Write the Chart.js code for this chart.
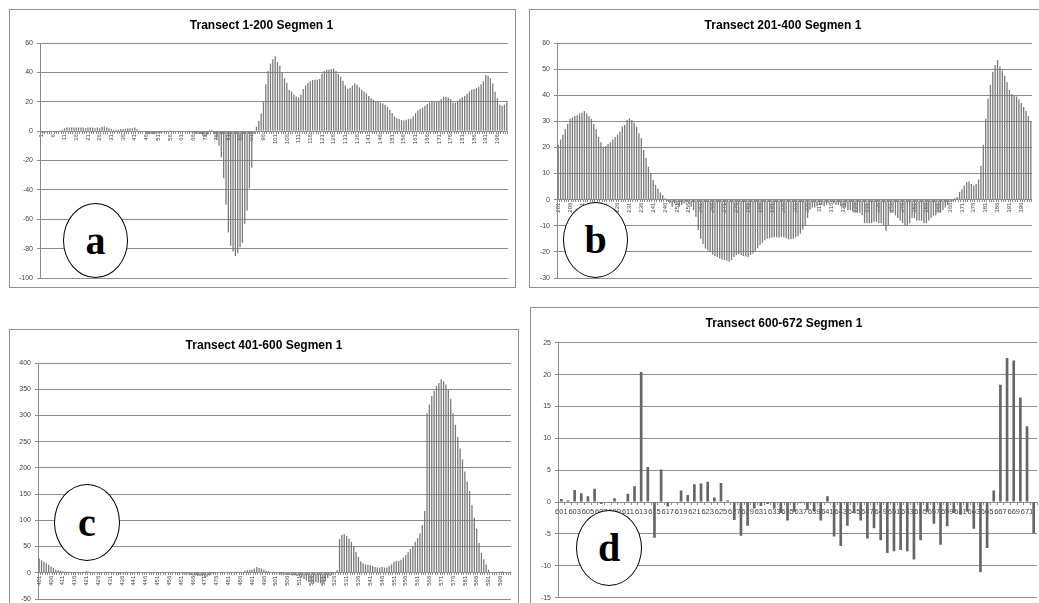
<!DOCTYPE html>
<html>
<head>
<meta charset="utf-8">
<title>Transect Segmen 1</title>
<script src="https://cdn.jsdelivr.net/npm/chart.js@4.4.0/dist/chart.umd.min.js"></script>
<style>
  html, body { margin: 0; padding: 0; background: #fff; }
  body { width: 1039px; height: 603px; position: relative; overflow: hidden; }
  .panel { position: absolute; border: 1px solid #8f8f8f; box-sizing: border-box; background: #fff; }
  canvas { position: absolute; }
  .tag {
    position: absolute; box-sizing: border-box; border: 1.6px solid #000; border-radius: 50%;
    background: #fff; display: flex; align-items: center; justify-content: center;
    font: bold 40px "Liberation Serif", "Times New Roman", serif; color: #000; line-height: 1;
  }
</style>
</head>
<body>
<div class="panel" style="left:9px;top:9px;width:507px;height:279px"></div>
<div class="panel" style="left:529px;top:9px;width:520px;height:279px"></div>
<div class="panel" style="left:9px;top:329px;width:510px;height:300px"></div>
<div class="panel" style="left:530px;top:307px;width:520px;height:310px"></div>

<canvas id="chartA" width="505" height="277" style="left:10px;top:10px"></canvas>
<canvas id="chartB" width="509" height="277" style="left:530px;top:10px"></canvas>
<canvas id="chartC" width="508" height="290" style="left:10px;top:330px"></canvas>
<canvas id="chartD" width="508" height="300" style="left:531px;top:308px"></canvas>

<div class="tag" style="left:63px;top:203px;width:65px;height:75px">a</div>
<div class="tag" style="left:563px;top:202px;width:65px;height:76px">b</div>
<div class="tag" style="left:54px;top:484px;width:66px;height:77px">c</div>
<div class="tag" style="left:576px;top:510px;width:66px;height:76px">d</div>

<script>
// categorías (número de punto del transecto)
const catsA = Array.from({ length: 200 }, (_, i) => String(1 + i));
const catsB = Array.from({ length: 200 }, (_, i) => String(201 + i));
const catsC = Array.from({ length: 200 }, (_, i) => String(401 + i));
const catsD = Array.from({ length: 72 }, (_, i) => String(601 + i));

const titleA = 'Transect 1-200 Segmen 1';
const titleB = 'Transect 201-400 Segmen 1';
const titleC = 'Transect 401-600 Segmen 1';
const titleD = 'Transect 600-672 Segmen 1';

// eje Y: [min, max, paso]
const yTicksA = [-100, 60, 20];
const yTicksB = [-30, 60, 10];
const yTicksC = [-50, 400, 50];
const yTicksD = [-15, 25, 5];

const valsA = [
  -1, -1, -1, -0.5, -0.5, -0.5, -1, -0.5, 0.5, 1,
  2, 2.5, 2.5, 2.5, 2.5, 2.5, 2.5, 2.5, 2.5, 2,
  2.5, 2.5, 2.5, 2, 2.5, 2, 3, 3, 2.5, 2,
  1.5, 1, 1, 1, 1.5, 1.5, 1.5, 2, 2, 2,
  2.5, 1.5, 0.5, 0, -0.5, -1.5, -2, -2, -2, -1.5,
  -1.5, -1, -1, -0.5, -0.5, 0.5, 0.5, 0, 0, -0.5,
  -0.5, 0, -0.5, -0.5, -1, -1, -1.5, -2, -2, -3,
  -4, -2.5, 1, 1, -2, -6, -10, -18, -32, -50,
  -69, -78, -82, -85, -83, -79, -76, -63, -54, -39,
  -25, -2, 3, 7, 12, 20, 32, 41, 46, 49,
  51, 47, 44.5, 40, 36, 33, 28, 27, 25, 23.6,
  23, 25, 28.6, 31, 32.7, 34, 34.8, 35, 35, 35.5,
  39, 41, 41.8, 42, 42.3, 42.7, 41, 38.9, 37, 34.3,
  31, 28.6, 29.5, 31, 32.5, 31.6, 29.8, 28.2, 27, 25.7,
  24, 22.3, 21.4, 20.5, 20, 19.5, 18.9, 18, 16.6, 14.5,
  12.3, 10, 8.9, 8.2, 7.5, 7.3, 7.7, 8.2, 8.2, 10,
  12.3, 14, 15, 16, 17.3, 18.4, 19.5, 20, 20, 20,
  20.7, 21.8, 23.4, 23.4, 22.7, 21.8, 19.5, 19.5, 20.7, 21.8,
  23, 24, 25.2, 27, 28.2, 28.6, 29.3, 30.2, 32, 33.9,
  38.2, 37.7, 36, 32.5, 26.8, 22.3, 18, 17.3, 18, 19.5
];

const valsB = [
  21, 23, 25, 27, 29, 31, 31.5, 32, 32.3, 33,
  33.3, 34, 33, 32, 31, 29, 27, 24, 22, 20.3,
  20.6, 21.3, 22, 23, 24, 25, 26, 28, 28.6, 30.5,
  31.2, 30.5, 29.5, 28, 25.4, 23.5, 19, 16, 12.6, 10,
  7.5, 5.6, 4.3, 2.7, 1.8, 0.5, -0.5, -1.4, -2.7, -1.5,
  -2, -2.7, -2, -1.5, -1, -1.5, -2.7, -4, -6.5, -11.6,
  -15, -17, -18.7, -19.5, -20, -21, -21.6, -22, -22.5, -22.9,
  -23.1, -23.4, -23.8, -23.1, -22, -21.2, -20.8, -21.2, -21.6, -21.8,
  -22, -21.2, -20.6, -19.7, -18.6, -17.4, -16.5, -15.5, -15, -14.8,
  -14.6, -14.4, -14.4, -14.5, -14.2, -14.4, -14.8, -15.2, -15.2, -15,
  -14.5, -14, -13, -11.5, -10, -7, -4, -3, -3, -2.5,
  -2, -2, -2.5, -2, -1.5, -1, -1.5, -2, -2, -2.5,
  -3, -3, -4, -4, -4.5, -5, -5, -5, -6, -9,
  -9, -9, -9, -8.5, -8.5, -9, -9, -10, -12, -10,
  -5, -5, -6, -7, -8, -9, -10, -10, -9, -7,
  -7, -8, -8, -8, -9, -9, -8, -7, -6, -6,
  -5, -5, -4, -3, -2, -1, -0.5, 0.5, 1, 3,
  4, 5.4, 6.7, 7, 6, 5.4, 6, 7.7, 13, 21,
  31, 38.7, 44, 49, 51.6, 53.5, 51, 49.5, 47.5, 45,
  42, 40.5, 40, 39.5, 38.5, 37, 35.5, 34, 32, 30
];

const valsC = [
  27, 24, 21, 18, 15, 12, 9, 6, 5, 4,
  3, 2, 2, 2, 1.5, 1.5, 1.5, 1, 1.5, 2,
  3.5, 2, 1, 1, 1, 0.5, 1, 1, 1, 1.5,
  2, 1.5, 1, -1, -2, -2, -1, -1, -1, -0.5,
  0.5, 0.5, 0, -1, -1, -1, -1, -0.5, 0, 0,
  0.5, 0.5, 0, -0.5, -1, -1, -0.5, 0, 0, -1,
  -2, -2, -3, -3, -4, -5, -5, -6, -6, -7,
  -8, -7, -5, -3, -2, -1, -1, 0, 0, 0.5,
  0, 0, 0, 0, 0.5, 1, 1, 4, 5, 6,
  6, 8, 11, 9, 8, 6, 4, 3, 1, 0,
  -1, -2, -3, -3, -4, -4, -4, -5, -5, -6,
  -7, -9, -12, -15, -18, -20, -21, -18, -19, -20,
  -21, -16, -10, -6, -3, 1, 5, 64, 72, 74,
  70, 65, 59, 51, 40, 30, 22, 18, 16, 15,
  15, 13, 11, 10, 10, 11, 10, 10, 13, 16,
  21, 23, 23, 25, 29, 34, 39, 45, 51, 59,
  66, 75, 91, 118, 304, 321, 337, 347, 356, 362,
  369, 365, 359, 350, 332, 304, 282, 259, 237, 216,
  193, 174, 156, 129, 105, 84, 57, 38, 26, 16,
  6, 1, -1, 0, 1, 2.5, 3, 1, 1, 1
];

const valsD = [
  0.5, 0.3, 1.9, 1.4, 0.9, 2.1, -0.3, 0, 0.6, 0,
  1.3, 2.5, 20.4, 5.5, -5.6, 5.1, -0.7, 0, 1.8, 1.1,
  2.8, 2.9, 3.2, 0.7, 3.0, 0.3, -2.8, -5.3, -3.7, -1.0,
  -0.6, -0.3, -1.0, -1.7, -2.9, -1.5, -0.2, -1.2, -1.4, -2.9,
  0.9, -5.4, -6.9, -3.7, -1.7, -2.9, -5.7, -4.1, -6.0, -8.0,
  -7.7, -7.5, -7.7, -9.0, -6.0, -1.5, -3.4, -6.7, -3.8, -1.7,
  -2.0, -1.5, -4.2, -11.0, -7.2, 1.8, 18.4, 22.6, 22.2, 16.4,
  11.9, -4.9
];

const FONT = '"Liberation Sans", Arial, sans-serif';
const GRID = '#8c8c8c';
const TXT = '#404040';

function makeChart(id, cfg) {
  const canvas = document.getElementById(id);
  return new Chart(canvas.getContext('2d'), {
    type: 'bar',
    data: {
      labels: cfg.labels,
      datasets: [{
        data: cfg.values,
        backgroundColor: cfg.color,
        borderWidth: 0,
        barPercentage: cfg.barPct,
        categoryPercentage: 1
      }]
    },
    options: {
      responsive: false,
      animation: false,
      devicePixelRatio: 1,
      layout: { padding: cfg.pad },
      plugins: {
        legend: { display: false },
        tooltip: { enabled: false },
        title: {
          display: true,
          text: cfg.title,
          color: '#000',
          font: { family: FONT, size: 12, weight: 'bold' },
          padding: cfg.titlePad
        }
      },
      scales: {
        x: {
          position: { y: 0 },
          afterFit: (s) => { s.height = 0; },
          grid: { display: true, drawOnChartArea: false, color: GRID, tickLength: 2 },
          border: { display: true, color: GRID },
          ticks: {
            autoSkip: false,
            minRotation: cfg.rot,
            maxRotation: cfg.rot,
            padding: cfg.xPad,
            color: TXT,
            font: { family: FONT, size: cfg.xFont },
            callback: function (v, i) { return i % cfg.every === 0 ? this.getLabelForValue(v) : ''; }
          }
        },
        y: {
          min: cfg.yTicks[0],
          max: cfg.yTicks[1],
          afterFit: (s) => { s.width = cfg.yWidth; },
          grid: { color: GRID, tickLength: 3 },
          border: { display: true, color: GRID },
          ticks: {
            stepSize: cfg.yTicks[2],
            padding: 4,
            color: TXT,
            font: { family: FONT, size: 7 }
          }
        }
      }
    }
  });
}

makeChart('chartA', {
  labels: catsA, values: valsA, title: titleA, yTicks: yTicksA,
  color: '#7a7a7a', barPct: 0.55, rot: 90, every: 5, xFont: 6, xPad: 1,
  yWidth: 30, pad: { left: 0, right: 2, top: 0, bottom: 9 },
  titlePad: { top: 8.8, bottom: 9.8 }
});

makeChart('chartB', {
  labels: catsB, values: valsB, title: titleB, yTicks: yTicksB,
  color: '#7a7a7a', barPct: 0.55, rot: 90, every: 5, xFont: 6, xPad: 1,
  yWidth: 27, pad: { left: 0, right: 3, top: 0, bottom: 9 },
  titlePad: { top: 8.8, bottom: 9.8 }
});

makeChart('chartC', {
  labels: catsC, values: valsC, title: titleC, yTicks: yTicksC,
  color: '#7a7a7a', barPct: 0.55, rot: 90, every: 5, xFont: 6, xPad: 1,
  yWidth: 28, pad: { left: 0, right: 0, top: 0, bottom: 21 },
  titlePad: { top: 8.8, bottom: 9.8 }
});

makeChart('chartD', {
  labels: catsD, values: valsD, title: titleD, yTicks: yTicksD,
  color: '#666666', barPct: 0.4, rot: 0, every: 2, xFont: 7.5, xPad: 3,
  yWidth: 27, pad: { left: 0, right: 2, top: 0, bottom: 10.3 },
  titlePad: { top: 8.8, bottom: 11.5 }
});
</script>
</body>
</html>
